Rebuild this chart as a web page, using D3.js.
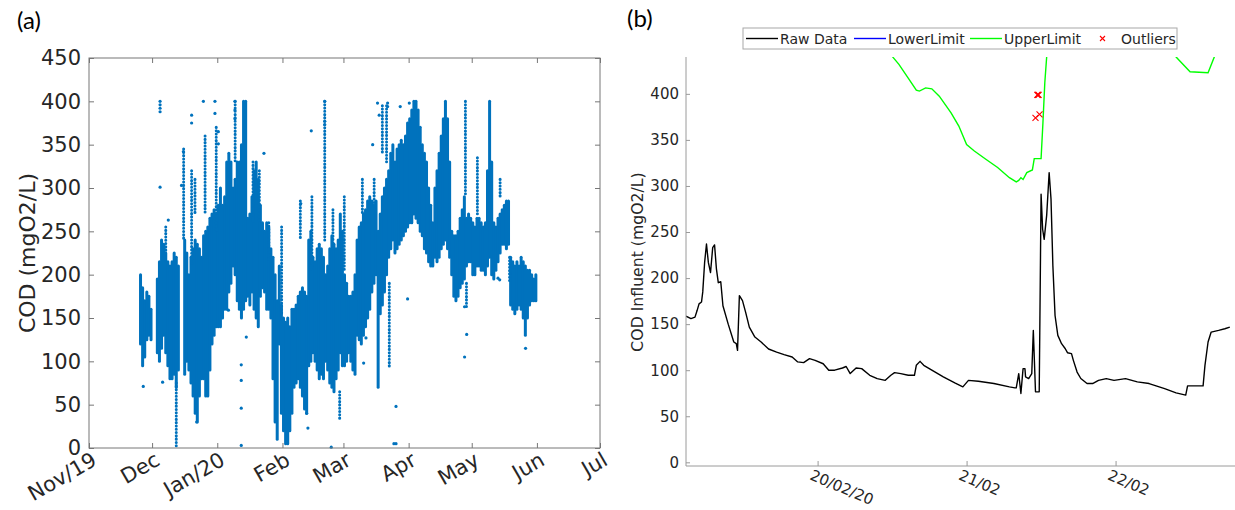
<!DOCTYPE html>
<html>
<head>
<meta charset="utf-8">
<script src="https://cdn.jsdelivr.net/npm/d3@7"></script>
<style>
body { margin: 0; background: #fff; }
text { font-family: "DejaVu Sans", sans-serif; fill: #262626; }
.panel-tag { font-family: Lato, "Open Sans", sans-serif; fill: #000; }
</style>
</head>
<body>
<svg id="chart" width="1235" height="510"></svg>
<script>
// ---------- panel (a): COD over the season ----------
// months on the x axis
var monthLabels = ["Nov/19", "Dec", "Jan/20", "Feb", "Mar", "Apr", "May", "Jun", "Jul"];
var codTicks = [0, 50, 100, 150, 200, 250, 300, 350, 400, 450];

// dense part of the scatter, read per day: [day since 1 Nov 2019, low, high]
var denseBands = [
  [24,120,200],[25,95,185],[26,105,170],[27,125,180],[28,130,175],[29,125,160],
  [32,110,195],[33,100,215],[34,115,240],[35,130,235],[36,110,225],[37,95,215],[38,80,210],
  [39,80,215],[40,85,225],[41,70,220],[42,90,210],
  [45,85,240],[46,100,225],[47,90,200],[48,75,220],[49,60,230],[50,40,240],[51,30,235],
  [52,60,230],[53,80,220],[54,80,245],[55,60,250],[56,60,255],[57,90,265],[58,120,270],
  [59,130,275],[60,140,270],[61,140,280],[62,140,300],[63,150,280],[64,160,290],
  [65,160,330],[66,180,340],[67,190,330],[68,210,300],[69,200,310],[70,170,330],
  [71,160,330],[72,150,350],[73,160,400],[74,170,400],[75,175,265],[76,165,270],
  [77,180,290],[78,160,320],[79,150,330],[80,140,310],[81,175,280],[82,185,260],
  [83,180,250],[84,160,260],[85,160,255],[86,150,230],[87,80,220],[88,30,200],[89,10,170],
  [90,120,210],[91,40,165],[92,20,150],[93,5,145],[94,5,150],[95,20,140],[96,40,160],
  [97,70,160],[98,75,165],[99,80,175],[100,70,180],[101,60,185],[102,45,180],[103,40,175],
  [104,95,240],[105,100,250],[106,110,220],[107,100,215],[108,90,230],[109,80,235],
  [110,85,230],[111,80,220],[112,100,200],[113,90,210],[114,75,230],[115,70,245],
  [116,65,235],[117,80,230],[118,90,240],[119,110,270],[120,95,250],[121,95,200],
  [122,100,190],[123,110,175],[124,100,175],[125,90,180],[126,85,200],[127,130,240],
  [128,125,255],[129,120,260],[130,130,270],[131,140,275],[132,150,285],[133,160,290],
  [134,180,285],[135,190,280],[136,200,285],[137,70,250],[138,155,270],[139,165,290],
  [140,180,300],[141,200,310],[142,220,320],[143,230,340],[144,240,350],[145,225,330],
  [146,230,345],[147,235,350],[148,240,355],[149,245,350],[150,250,360],[151,255,375],
  [152,260,380],[153,260,390],[154,270,400],[155,265,400],[156,260,390],[157,250,370],
  [158,245,350],[159,230,340],[160,225,330],[161,215,300],[162,210,280],[163,210,260],
  [164,220,300],[165,215,320],[166,220,340],[167,230,360],[168,235,380],[169,240,400],
  [170,230,380],[171,220,330],[172,200,250],[173,175,245],[174,170,245],[175,175,250],
  [176,185,265],[177,190,275],[178,195,290],[179,210,265],[180,215,270],[181,215,265],
  [182,200,260],[183,200,255],[184,210,265],[185,210,265],[186,205,260],[187,205,255],
  [188,200,260],[189,210,320],[190,220,400],[191,200,330],[192,195,260],[193,205,255],
  [194,215,265],[195,225,270],[196,235,275],[197,235,280],[198,230,285],[199,235,285],
  [200,165,220],[201,160,215],[202,155,210],[203,160,215],[204,165,210],[205,160,220],
  [206,150,215],[207,130,210],[208,150,205],[209,165,205],[210,170,200],[211,170,195],
  [212,170,200]
];

// thin runs of separate markers above/below the dense part: [day, low, high]
var sparseStreaks = [
  [36.5,225,255],[41.5,0,75],[45,240,345],[48.8,210,320],[50.4,270,310],[55.2,270,360],
  [60.5,250,370],[69.5,330,400],[78,260,330],[81,260,320],[85.5,215,260],[91.6,155,255],
  [100.5,240,285],[106,205,290],[112.1,240,400],[116,230,275],[119.2,34,65],[121.4,205,290],
  [130,270,310],[135.6,275,310],[139.5,340,395],[141.5,330,395],[142.8,92,190],
  [179,290,400],[179.5,160,190],[184.7,270,335],[195.5,290,310],[200,190,220]
];

// isolated samples outside the dense part: [day, COD]
var sparsePoints = [
  [33.8,400],[33.8,396],[33.8,392],[33.8,388],[33.8,301],[35,76],[25.8,71],[37.7,263],
  [44.9,342],[44,303],[48.8,384],[48.8,375],[54.4,400],[59.9,400],[59.9,386],[61.5,365],
  [61.5,351],[69.4,400],[69.4,390],[69.4,380],[66.3,159],[51.2,30],[72.4,96],[72.4,78],
  [72.4,46],[72.4,3],[83.2,340],[74.8,128],[105.7,366],[112.1,400],[112.1,377],
  [112.1,373],[115.2,1],[104.1,23],[103.5,40],[100.7,282],[137.2,398],[142,398],[142,394],
  [138,384],[134.9,350],[151.5,172],[146,48],[145,5],[146,5],[152.3,398],[148,394],
  [130.6,98],[131.7,127],[178.6,105],[179.6,131],[178.6,163],[207.6,115],[194.5,196],
  [195.3,194]
];

// ---------- panel (b): three days of influent COD ----------
// hours from 20/02/2020 00:00
var rawHours = [-21.2,-20.4,-19.75,-19.4,-19.1,-18.7,-18.5,-18.2,-17.9,-17.6,-17.25,-16.9,
  -16.6,-16.3,-16,-15.6,-15.25,-14.4,-13.5,-13.1,-12.9,-12.6,-12.1,-11.6,-11,-10.1,-9.1,
  -7.9,-6.6,-5.4,-4.1,-3.2,-2.25,-1.3,-0.4,0.9,1.8,2.75,4,4.6,5.25,6.2,7.1,8.4,9.6,10.9,
  11.8,12.4,13.4,14.6,15.6,15.9,16.5,17.1,18.4,20.25,22.1,23.4,24.3,25.9,28.4,30.9,31.8,
  32,32.4,32.75,33.1,33.4,33.5,34,34.5,34.75,35.1,35.7,36,36.25,36.5,36.9,37.3,37.6,37.9,
  38.25,38.7,39.3,39.9,40.25,40.9,41.2,41.8,42.4,43.4,44.3,45.25,46.5,47.75,49.6,51.5,
  53.4,55.9,57.75,59.3,59.6,60.9,62.1,62.4,62.9,63.4,64.6,65.6,66.4];
var rawValues = [158.7,156,157.6,165,172,174,185,217,237,217,206,233,236,210,195,196,170,
  150,130.6,128.8,121.5,181,175.6,163,146.8,136,130.6,123,119.7,116.9,114.3,109,108.2,
  112.5,110.7,107,100,100,102.4,104,96.3,102.4,101.7,94.5,90.9,89,94.5,97.4,96.3,94.5,
  94.5,105.3,109.6,105.3,100,92.7,86.2,81.9,89,88,85.5,81.9,80.8,80.8,96.3,74.7,101.7,
  101.7,92.7,90.9,96.3,143.2,76.5,76.5,291,253,242,268,314.5,285.7,213.5,159.4,137.8,
  128.8,123.3,119,118,110.7,98,91,85.5,85.5,89,90.9,89,90.9,87.3,85.5,80,75.4,72.9,83,83,
  83,105.3,130.6,141.4,143.2,145,146.8];

// upper limit runs far above the axes between its two visible parts
var upperHours = [11.5,12.1,13.1,14.6,15.9,16.4,17.4,18.4,19.6,21.5,22.75,24,25.25,27.1,29,
  30.9,32,32.4,32.75,33.1,33.7,34.6,34.9,36,36.3,36.6,36.9,37.1,40,50,56.5,57.75,60,62.9,
  63.9,64.2,66];
var upperValues = [452,440,432,417,404,403,406.5,405.4,397.5,379.4,365,345,338,329,320,309,
  304.4,306,309,307,314.5,317.4,329.7,329.7,368.6,412,440,460,800,800,452,440,424,423,440,
  452,600];

var outlierHours = [35.1, 35.4, 35.5, 35.6, 35.75];
var outlierValues = [374, 399, 399, 399, 377.6];

var dateTicksB = [0, 24, 48];
var dateLabelsB = ["20/02/20", "21/02", "22/02"];
var codTicksB = [0, 50, 100, 150, 200, 250, 300, 350, 400];

var legendLabels = ["Raw Data", "LowerLimit", "UpperLimit", "Outliers"];
var legendColors = ["#000000", "#0000ff", "#00ff00", "#ff0000"];

// ------------------------------------------------------------
var svg = d3.select("#chart");
var dayZero = new Date(2019, 10, 1);
function dayDate(d) { return new Date(dayZero.getTime() + d * 864e5); }
var hourZero = new Date(2020, 1, 20);
function hourDate(h) { return new Date(hourZero.getTime() + h * 36e5); }

// ---------- draw (a) ----------
var xA = d3.scaleTime().domain([new Date(2019, 10, 1), new Date(2020, 6, 1)]).range([89, 600]);
var yA = d3.scaleLinear().domain([0, 450]).range([448, 58]);
var monthDates = monthLabels.map(function(l, i) { return new Date(2019, 10 + i, 1); });
var blue = "#0072bd";

var gA = svg.append("g");
// each day's spread drawn as a run of markers: a round-capped stroke
gA.append("g").selectAll("line")
  .data(denseBands)
  .enter().append("line")
  .attr("x1", function(d) { return xA(dayDate(d[0] + 0.5)); })
  .attr("x2", function(d) { return xA(dayDate(d[0] + 0.5)); })
  .attr("y1", function(d) { return yA(d[2]); })
  .attr("y2", function(d) { return yA(d[1]); })
  .attr("stroke", blue)
  .attr("stroke-width", 3)
  .attr("stroke-linecap", "round");

// streaks of separate dots
gA.append("g").selectAll("line")
  .data(sparseStreaks)
  .enter().append("line")
  .attr("x1", function(d) { return xA(dayDate(d[0])); })
  .attr("x2", function(d) { return xA(dayDate(d[0])); })
  .attr("y1", function(d) { return yA(d[2]); })
  .attr("y2", function(d) { return yA(d[1]); })
  .attr("stroke", blue)
  .attr("stroke-width", 3)
  .attr("stroke-linecap", "round")
  .attr("stroke-dasharray", "0.1,3.2");

gA.append("g").selectAll("circle")
  .data(sparsePoints)
  .enter().append("circle")
  .attr("cx", function(d) { return xA(dayDate(d[0])); })
  .attr("cy", function(d) { return yA(d[1]); })
  .attr("r", 1.6)
  .attr("fill", blue);

var axisCol = "#777";
function styleAxis(g) {
  g.select(".domain").remove();
  g.selectAll(".tick line").attr("stroke", axisCol);
  g.selectAll(".tick text").attr("fill", "#262626");
}

gA.append("g").attr("transform", "translate(0,448)")
  .call(d3.axisBottom(xA).tickValues(monthDates).tickFormat(function(d, i) { return monthLabels[i]; })
    .tickSizeInner(-5).tickSizeOuter(0))
  .call(styleAxis)
  .selectAll(".tick text")
  .attr("font-size", 21)
  .attr("text-anchor", "end")
  .attr("y", 0).attr("dy", "0.72em")
  .attr("transform", "translate(1,3) rotate(-30)");

gA.append("g").attr("transform", "translate(0,58)")
  .call(d3.axisTop(xA).tickValues(monthDates).tickFormat("").tickSizeInner(-5).tickSizeOuter(0))
  .call(styleAxis);

gA.append("g").attr("transform", "translate(89,0)")
  .call(d3.axisLeft(yA).tickValues(codTicks).tickSizeInner(-5).tickSizeOuter(0).tickPadding(8))
  .call(styleAxis)
  .selectAll(".tick text").attr("font-size", 21);

gA.append("g").attr("transform", "translate(600,0)")
  .call(d3.axisRight(yA).tickValues(codTicks).tickFormat("").tickSizeInner(-5).tickSizeOuter(0))
  .call(styleAxis);

gA.append("rect")
  .attr("x", 89).attr("y", 58).attr("width", 511).attr("height", 390)
  .attr("fill", "none").attr("stroke", axisCol);

gA.append("text")
  .attr("transform", "translate(35,253) rotate(-90)")
  .attr("text-anchor", "middle")
  .attr("font-size", 22)
  .text("COD (mgO2/L)");

svg.append("text").attr("class", "panel-tag")
  .attr("x", 17).attr("y", 29).attr("font-size", 24).text("(a)");

// ---------- draw (b) ----------
var xB = d3.scaleTime().domain([hourDate(-21.2), hourDate(67.4)]).range([686, 1236]);
var yB = d3.scaleLinear().domain([-4, 440]).range([466, 57]);
var axisColB = "#9a9a9a";

var gB = svg.append("g");
svg.append("clipPath").attr("id", "clipB")
  .append("rect").attr("x", 686).attr("y", 57).attr("width", 560).attr("height", 409);

var rawSeries = rawHours.map(function(h, i) { return [h, rawValues[i]]; });
var upperSeries = upperHours.map(function(h, i) { return [h, upperValues[i]]; });
var lineB = d3.line()
  .x(function(d) { return xB(hourDate(d[0])); })
  .y(function(d) { return yB(d[1]); });

var plotB = gB.append("g").attr("clip-path", "url(#clipB)");
plotB.append("path").datum(upperSeries)
  .attr("d", lineB).attr("fill", "none").attr("stroke", "#00ff00").attr("stroke-width", 1.4);
plotB.append("path").datum(rawSeries)
  .attr("d", lineB).attr("fill", "none").attr("stroke", "#000").attr("stroke-width", 1.4)
  .attr("stroke-linejoin", "round");

plotB.selectAll("path.outlier")
  .data(outlierHours)
  .enter().append("path")
  .attr("class", "outlier")
  .attr("transform", function(h, i) {
    return "translate(" + xB(hourDate(h)) + "," + yB(outlierValues[i]) + ")";
  })
  .attr("d", "M-3,-3L3,3M-3,3L3,-3")
  .attr("stroke", "#ff0000").attr("stroke-width", 1.1);

function styleAxisB(g) {
  g.select(".domain").remove();
  g.selectAll(".tick line").attr("stroke", axisColB);
}

gB.append("g").attr("transform", "translate(0,466)")
  .call(d3.axisBottom(xB).tickValues(dateTicksB.map(hourDate))
    .tickFormat(function(d, i) { return dateLabelsB[i]; })
    .tickSizeInner(-5).tickSizeOuter(0))
  .call(styleAxisB)
  .selectAll(".tick text")
  .attr("font-size", 15)
  .attr("text-anchor", "start")
  .attr("y", 0).attr("dy", "0.72em")
  .attr("transform", "translate(-5,3) rotate(23)");

gB.append("g").attr("transform", "translate(686,0)")
  .call(d3.axisLeft(yB).tickValues(codTicksB).tickSizeInner(-4).tickSizeOuter(0).tickPadding(7))
  .call(styleAxisB)
  .selectAll(".tick text").attr("font-size", 15);

gB.append("line").attr("x1", 686).attr("x2", 686).attr("y1", 57).attr("y2", 466)
  .attr("stroke", axisColB);
gB.append("line").attr("x1", 686).attr("x2", 1235).attr("y1", 466).attr("y2", 466)
  .attr("stroke", axisColB);

gB.append("text")
  .attr("transform", "translate(643,262) rotate(-90)")
  .attr("text-anchor", "middle")
  .attr("font-size", 15.7)
  .text("COD Influent (mgO2/L)");

svg.append("text").attr("class", "panel-tag")
  .attr("x", 627).attr("y", 27).attr("font-size", 24).text("(b)");

// legend
var legend = svg.append("g").attr("transform", "translate(743,28)");
legend.append("rect").attr("width", 434).attr("height", 21)
  .attr("fill", "#fff").attr("stroke", "#a8a8a8");
var legendX = [3, 111, 227, 345];
legendLabels.forEach(function(label, i) {
  var item = legend.append("g").attr("transform", "translate(" + legendX[i] + ",0)");
  if (label === "Outliers") {
    item.append("path").attr("d", "M12,8L17,13M12,13L17,8")
      .attr("stroke", legendColors[i]).attr("stroke-width", 1.1);
    item.append("text").attr("x", 33).attr("y", 16).attr("font-size", 14).text(label);
  } else {
    item.append("line").attr("x1", 0).attr("x2", 32).attr("y1", 10.5).attr("y2", 10.5)
      .attr("stroke", legendColors[i]).attr("stroke-width", 1.4);
    item.append("text").attr("x", 34).attr("y", 16).attr("font-size", 14).text(label);
  }
});
</script>
</body>
</html>
